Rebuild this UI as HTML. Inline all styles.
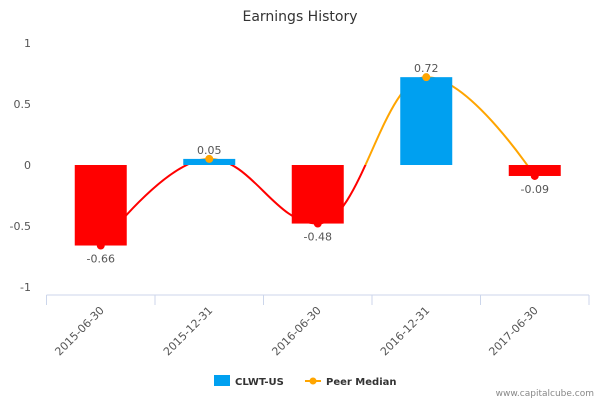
<!DOCTYPE html>
<html><head><meta charset="utf-8"><style>
body{margin:0;background:#fff;font-family:"Liberation Sans","DejaVu Sans",sans-serif}
svg text{font-family:"DejaVu Sans","Liberation Sans",sans-serif}
</style></head><body>
<svg id="c" width="600" height="400" xmlns="http://www.w3.org/2000/svg">
<text x="300" y="21" text-anchor="middle" font-size="14" fill="#333">Earnings History</text>
<g id="grid"></g><g id="line"></g><g id="bars"></g><g id="marks"></g><g id="labels"></g>
<g>
<rect x="214" y="375" width="16" height="11" fill="#00a0f0"/>
<text x="235" y="385" font-size="10" font-weight="bold" fill="#333">CLWT-US</text>
<line x1="305" y1="381" x2="321" y2="381" stroke="#ffa500" stroke-width="2"/>
<circle cx="313" cy="381" r="3.5" fill="#ffa500"/>
<text x="326" y="385" font-size="10" font-weight="bold" fill="#333">Peer Median</text>
</g>
<text x="594" y="396" text-anchor="end" font-size="9" fill="#888">www.capitalcube.com</text>
</svg>
<script>
const categories=["2015-06-30","2015-12-31","2016-06-30","2016-12-31","2017-06-30"];
const companyValues=[-0.66,0.05,-0.48,0.72,-0.09];
const peerValues=[-0.66,0.05,-0.48,0.72,-0.09];
const yTicks=[1,0.5,0,-0.5,-1];
const NS="http://www.w3.org/2000/svg";
const x0=46.5,x1=589,yTop=43,yBot=287;
const bw=(x1-x0)/categories.length;
const xC=i=>x0+bw*(i+0.5);
const y=v=>yTop+(1-v)*(yBot-yTop)/2;
function mk(t,a,p){const e=document.createElementNS(NS,t);for(const k in a)e.setAttribute(k,a[k]);document.getElementById(p).appendChild(e);return e;}
yTicks.forEach(v=>{const t=mk('text',{x:31,y:y(v)+4,'text-anchor':'end','font-size':11,fill:'#555'},'grid');t.textContent=String(v);

});
const ax=mk('line',{x1:x0,x2:x1,y1:yBot+8,y2:yBot+8,stroke:'#ccd6eb'},'grid');


for(let i=0;i<=categories.length;i++){const tk=mk('line',{x1:x0+bw*i,x2:x0+bw*i,y1:yBot+8,y2:yBot+18,stroke:'#ccd6eb'},'grid');

}
categories.forEach((c,i)=>{const t=mk('text',{x:xC(i)+4,y:yBot+24,'text-anchor':'end','font-size':11,fill:'#555',transform:`rotate(-45 ${xC(i)+4} ${yBot+24})`},'grid');t.textContent=c;

});
// spline
const pts=peerValues.map((v,i)=>[xC(i),y(v)]);
let d=`M${pts[0][0]},${pts[0][1]}`;
const sm=1.5,dn=sm+1;
function ctrl(i){const p=pts[i],a=pts[i-1],b=pts[i+1];
if(!a||!b)return [p,p];
let lx=(sm*p[0]+a[0])/dn,ly=(sm*p[1]+a[1])/dn,rx=(sm*p[0]+b[0])/dn,ry=(sm*p[1]+b[1])/dn;
let cor=0;if(rx!==lx)cor=((ry-ly)*(rx-p[0]))/(rx-lx)+p[1]-ry;ly+=cor;ry+=cor;
if(ly>a[1]&&ly>p[1]){ly=Math.max(a[1],p[1]);ry=2*p[1]-ly;}else if(ly<a[1]&&ly<p[1]){ly=Math.min(a[1],p[1]);ry=2*p[1]-ly;}
if(ry>b[1]&&ry>p[1]){ry=Math.max(b[1],p[1]);ly=2*p[1]-ry;}else if(ry<b[1]&&ry<p[1]){ry=Math.min(b[1],p[1]);ly=2*p[1]-ry;}
return [[lx,ly],[rx,ry]];}
for(let i=1;i<pts.length;i++){const r=ctrl(i-1)[1],l=ctrl(i)[0];d+=` C${r[0]},${r[1]} ${l[0]},${l[1]} ${pts[i][0]},${pts[i][1]}`;}
const defs=mk('defs',{},'line');
const c1=mk('clipPath',{id:'above'},'line');c1.appendChild(Object.assign(document.createElementNS(NS,'rect')));
c1.firstChild.setAttribute('x',0);c1.firstChild.setAttribute('y',0);c1.firstChild.setAttribute('width',600);c1.firstChild.setAttribute('height',y(0));
const c2=mk('clipPath',{id:'below'},'line');const r2=document.createElementNS(NS,'rect');c2.appendChild(r2);
r2.setAttribute('x',0);r2.setAttribute('y',y(0));r2.setAttribute('width',600);r2.setAttribute('height',400);
const la=mk('path',{d,fill:'none',stroke:'#ffa500','stroke-width':2,'clip-path':'url(#above)'},'line');


const lb=mk('path',{d,fill:'none',stroke:'#ff0000','stroke-width':2,'clip-path':'url(#below)'},'line');


companyValues.forEach((v,i)=>{const top=Math.min(y(v),y(0)),h=Math.abs(y(v)-y(0));
const b=mk('rect',{x:xC(i)-26,y:top,width:52,height:Math.max(h,1),fill:v>=0?'#00a0f0':'#ff0000'},'bars');


const t=mk('text',{x:xC(i),y:v>=0?y(v)-5:y(v)+17,'text-anchor':'middle','font-size':11,fill:'#555'},'labels');t.textContent=v.toFixed(2);

});
peerValues.forEach((v,i)=>{const m=mk('circle',{cx:xC(i),cy:y(v),r:4,fill:v>=0?'#ffa500':'#ff0000'},'marks');

});
</script>
</body></html>
